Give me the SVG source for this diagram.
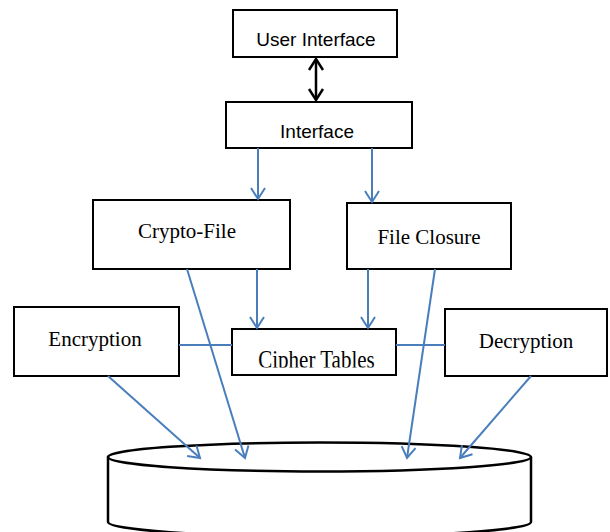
<svg xmlns="http://www.w3.org/2000/svg" width="610" height="532" viewBox="0 0 610 532">
  <style>
    .box { fill: #ffffff; stroke: #000000; stroke-width: 2; }
    .sans { font-family: "Liberation Sans", Arial, sans-serif; font-size: 19px; fill: #000000; text-anchor: middle; }
    .serif { font-family: "Liberation Serif", "Times New Roman", serif; font-size: 21px; fill: #000000; text-anchor: middle; }
    .conn { fill: none; stroke: #4a7ebb; stroke-width: 2; }
    .arr { marker-end: url(#blueHead); }
    .cyl { fill: #ffffff; stroke: #000000; stroke-width: 2.5; }
  </style>
  <defs>
    <marker id="blueHead" markerUnits="userSpaceOnUse" markerWidth="20" markerHeight="20" viewBox="-12 -10 14 20" refX="0" refY="0" orient="auto">
      <path d="M-11,-7 L0,0 L-11,7" fill="none" stroke="#4a7ebb" stroke-width="2"/>
    </marker>
    <marker id="blackHead" markerUnits="userSpaceOnUse" markerWidth="20" markerHeight="20" viewBox="-12 -10 14 20" refX="0" refY="0" orient="auto">
      <path d="M-11,-7 L0,0 L-11,7" fill="none" stroke="#000000" stroke-width="2.5"/>
    </marker>
    <clipPath id="cipherClip">
      <rect x="232" y="329" width="164" height="38.5"/>
    </clipPath>
  </defs>

  <g id="storage">
    <path class="cyl" d="M108,457 L108,522 A211.5,14.5 0 0 0 531,522 L531,457"/>
    <ellipse class="cyl" cx="319.5" cy="457" rx="211.5" ry="14.5"/>
  </g>

  <g id="user-interface">
    <rect class="box" x="233" y="10" width="164" height="47"/>
    <text class="sans" x="316" y="46">User Interface</text>
  </g>

  <g id="interface">
    <rect class="box" x="226" y="102" width="186" height="46"/>
    <text class="sans" x="317" y="138">Interface</text>
  </g>

  <g id="crypto-file">
    <rect class="box" x="93" y="200" width="197" height="69"/>
    <text class="serif" x="187" y="238">Crypto-File</text>
  </g>

  <g id="file-closure">
    <rect class="box" x="347" y="203" width="164" height="66"/>
    <text class="serif" x="429" y="244">File Closure</text>
  </g>

  <g id="encryption">
    <rect class="box" x="14" y="307" width="165" height="69"/>
    <text class="serif" x="95" y="346">Encryption</text>
  </g>

  <g id="cipher-tables">
    <rect class="box" x="232" y="329" width="164" height="46"/>
    <g clip-path="url(#cipherClip)">
      <text class="serif" transform="translate(316.5,368) scale(1,1.2)" x="0" y="0">Cipher Tables</text>
    </g>
  </g>

  <g id="decryption">
    <rect class="box" x="445" y="309" width="162" height="67"/>
    <text class="serif" x="526" y="348">Decryption</text>
  </g>

  <g id="connectors">
    <line x1="316" y1="79" x2="316" y2="59" fill="none" stroke="#000" stroke-width="2.5" marker-end="url(#blackHead)"/>
    <line x1="316" y1="79" x2="316" y2="100" fill="none" stroke="#000" stroke-width="2.5" marker-end="url(#blackHead)"/>

    <line class="conn arr" x1="258" y1="148" x2="258" y2="199"/>
    <line class="conn arr" x1="372" y1="148" x2="372" y2="202"/>

    <line class="conn arr" x1="257" y1="269" x2="257" y2="328"/>
    <line class="conn arr" x1="368" y1="269" x2="368" y2="328"/>

    <line class="conn" x1="179" y1="345" x2="232" y2="345"/>
    <line class="conn" x1="396" y1="345" x2="445" y2="345"/>

    <line class="conn arr" x1="108" y1="376" x2="200" y2="458"/>
    <line class="conn arr" x1="187" y1="269" x2="245" y2="458"/>
    <line class="conn arr" x1="435" y1="269" x2="407" y2="458"/>
    <line class="conn arr" x1="531" y1="376" x2="460" y2="458"/>
  </g>
</svg>
